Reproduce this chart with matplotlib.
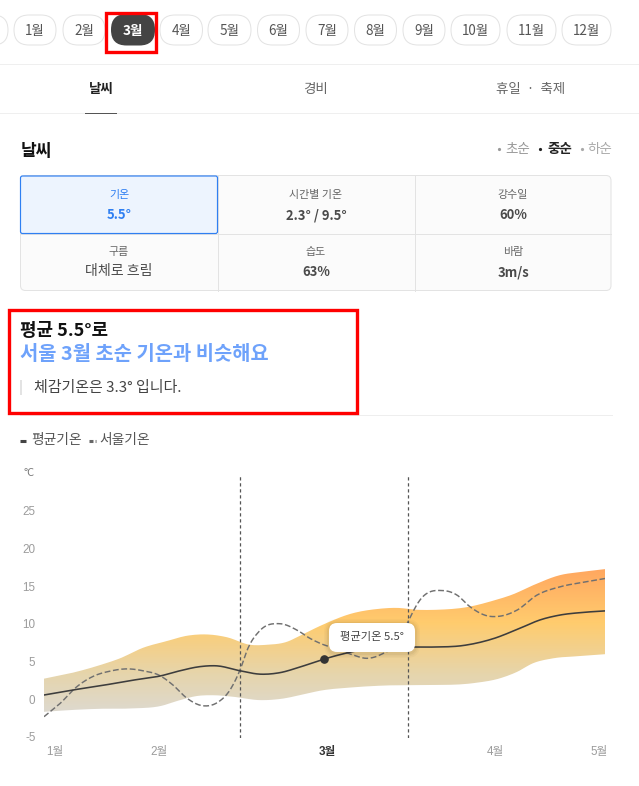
import numpy as np
import matplotlib
matplotlib.use("Agg")
import matplotlib.pyplot as plt
from matplotlib.colors import LinearSegmentedColormap
from matplotlib.patches import FancyBboxPatch, Rectangle, PathPatch
from matplotlib.path import Path

plt.rcParams['font.family'] = ['Noto Sans CJK KR', 'DejaVu Sans']

W, H = 639, 786
months = ['1월', '2월', '3월', '4월', '5월', '6월', '7월', '8월', '9월', '10월', '11월', '12월']
tabs = ['날씨', '경비', '휴일  ·  축제']
periods = ['초순', '중순', '하순']
cells = [['기온', '5.5°'], ['시간별 기온', '2.3° / 9.5°'], ['강수일', '60%'],
         ['구름', '대체로 흐림'], ['습도', '63%'], ['바람', '3m/s']]
y_ticks = [-5, 0, 5, 10, 15, 20, 25]
x_tick_pos = [55, 159, 327, 495, 599]
x_tick_labels = ['1월', '2월', '3월', '4월', '5월']
period_edges = [240.3, 408.3]

mean_x = [44, 73, 100, 133, 160, 180, 200, 217, 240, 260, 280, 300, 324, 353, 380, 415, 433, 463, 493, 520, 540, 560, 583, 605]
mean_y = [0.53, 1.2, 1.75, 2.5, 3.05, 3.75, 4.3, 4.4, 3.75, 3.3, 3.5, 4.25, 5.3, 6.3, 6.9, 6.9, 6.9, 7.1, 8.0, 9.4, 10.5, 11.15, 11.5, 11.7]
upper_x = [44, 73, 100, 120, 143, 167, 187, 210, 227, 250, 267, 287, 300, 320, 353, 377, 397, 417, 437, 467, 493, 513, 533, 560, 583, 605]
upper_y = [2.7, 3.5, 4.5, 5.4, 6.8, 7.7, 8.4, 8.55, 8.2, 7.2, 7.2, 7.6, 8.4, 9.7, 11.4, 11.95, 12.1, 11.85, 11.85, 12.2, 13.05, 13.9, 15.1, 16.45, 16.9, 17.25]
lower_x = [44, 73, 100, 133, 160, 180, 197, 213, 233, 260, 280, 300, 320, 353, 387, 420, 473, 500, 517, 533, 553, 580, 605]
lower_y = [-1.7, -1.45, -1.3, -1.25, -0.95, -0.15, 0.4, 0.5, 0.3, -0.15, 0, 0.5, 1.1, 1.55, 1.8, 1.85, 2.1, 2.75, 3.6, 4.75, 5.4, 5.7, 5.95]
seoul_x = [44, 60, 77, 93, 110, 127, 143, 160, 173, 187, 203, 217, 230, 240, 248, 260, 280, 297, 310, 320, 340, 353, 367, 383, 400, 408, 420, 443, 457, 470, 487, 500, 517, 537, 560, 583, 605]
seoul_y = [-2.35, -0.6, 1.65, 3, 3.7, 4, 3.75, 3.1, 1.85, 0.1, -0.9, -0.5, 1.2, 3.85, 6.75, 9.1, 10, 9.15, 8.05, 7.4, 6.5, 5.85, 5.4, 6.05, 7.85, 10.25, 13.15, 14.4, 13.8, 12.25, 11.05, 11, 11.8, 13.8, 14.9, 15.5, 16]
marker_x, marker_y = 324, 5.3


def smooth(x, y, n=12):
    x = np.asarray(x, float)
    y = np.asarray(y, float)
    m = np.gradient(y, x)
    xs, ys = [], []
    for i in range(len(x) - 1):
        h = x[i + 1] - x[i]
        t = np.linspace(0, 1, n, endpoint=False)
        xs.append(x[i] + t * h)
        ys.append((2 * t ** 3 - 3 * t ** 2 + 1) * y[i] + (t ** 3 - 2 * t ** 2 + t) * h * m[i]
                  + (-2 * t ** 3 + 3 * t ** 2) * y[i + 1] + (t ** 3 - t ** 2) * h * m[i + 1])
    return np.r_[np.concatenate(xs), x[-1]], np.r_[np.concatenate(ys), y[-1]]


fig = plt.figure(figsize=(W / 100, H / 100), dpi=100, facecolor='white')

# ---- chart axes: value 25 at py 510.75, -5 at py 736.65
PX_PER = 7.53
py0 = 699.0
ax_top, ax_bot = 473.0, 738.0
ax = fig.add_axes([44 / W, 1 - ax_bot / H, (605 - 44) / W, (ax_bot - ax_top) / H])
ax.patch.set_alpha(0)
for s in ax.spines.values():
    s.set_visible(False)
ax.set_yticks(y_ticks)
ax.set_yticklabels([str(v) for v in y_ticks])
ax.set_xticks(x_tick_pos)
ax.set_xticklabels(x_tick_labels)
ax.tick_params(axis='y', length=0, pad=6.2, labelsize=8.4, labelcolor='#9c9c9c')
ax.tick_params(axis='x', length=0, pad=5.5, labelsize=8.4, labelcolor='#9c9c9c')
tick_family = ['Liberation Sans', 'Noto Sans CJK KR']
for lab in ax.get_yticklabels() + ax.get_xticklabels():
    lab.set_fontfamily(tick_family)
for lab, t in zip(ax.get_xticklabels(), x_tick_labels):
    if t == '3월':
        lab.set_color('#333333')
        lab.set_fontweight('bold')

ux, uy = smooth(upper_x, upper_y)
lx, ly = smooth(lower_x, lower_y)
cmap = LinearSegmentedColormap.from_list('band', [(0, '#DDD9D0'), (0.27, '#E6D5AC'), (0.62, '#FFCC6E'), (1, '#FFA65F')])
grad = np.linspace(0, 1, 256)[:, None]
im = ax.imshow(grad, extent=[44, 605, -2, 17.4], origin='lower', aspect='auto', cmap=cmap, zorder=1)
poly = Path(np.vstack([np.column_stack([ux, uy]), np.column_stack([lx, ly])[::-1]]))
patch = PathPatch(poly, transform=ax.transData, facecolor='none', edgecolor='none')
ax.add_patch(patch)
im.set_clip_path(patch)
ax.set_xlim(44, 605)
ax.set_ylim((py0 - ax_bot) / PX_PER, (py0 - ax_top) / PX_PER)

for xv in period_edges:
    ax.plot([xv, xv], [(py0 - ax_bot) / PX_PER, (py0 - 476) / PX_PER], color='#555555', lw=0.9, dashes=(2.6, 2.2), zorder=2)
sx, sy = smooth(seoul_x, seoul_y)
ax.plot(sx, sy, color='#707070', lw=1.05, dashes=(4, 1.8), zorder=3)
mx, my = smooth(mean_x, mean_y)
ax.plot(mx, my, color='#3d3d3d', lw=1.15, zorder=4)
ax.plot([marker_x], [marker_y], 'o', color='#333333', ms=5.2, zorder=5)

# ---- page overlay in pixel coordinates
ui = fig.add_axes([0, 0, 1, 1], zorder=10)
ui.patch.set_alpha(0)
ui.set_xlim(0, W)
ui.set_ylim(H, 0)
ui.axis('off')


def rr(x0, y0, x1, y1, r, fc='none', ec='none', lw=0.72, z=2):
    p = FancyBboxPatch((x0, y0), x1 - x0, y1 - y0, boxstyle=f'round,pad=0,rounding_size={r}',
                       fc=fc, ec=ec, lw=lw, zorder=z, mutation_aspect=1)
    ui.add_patch(p)


def px(size):
    return size * 0.72


def label(x, y, s, size, color='#444444', ha='center', weight='normal', z=5):
    ui.text(x, y + 1.2, s, fontsize=px(size), color=color, ha=ha, va='center', fontweight=weight, zorder=z)


# month pills
pill_edges = [(14, 56), (63, 105), (111, 155), (160, 202.5), (208, 251), (257.5, 299.5), (306, 348),
              (354.5, 396.5), (403, 445), (451, 500), (507, 556), (562, 611)]
rr(-30, 15, 8, 45, 15, fc='white', ec='#e3e3e3')
for m, (a, b) in zip(months, pill_edges):
    if m == '3월':
        rr(a, 14, b, 45.5, 15.5, fc='#444444', z=3)
        label((a + b) / 2, 30, m, 13.5, color='white', weight='bold')
    else:
        rr(a, 15, b, 45, 15, fc='white', ec='#e3e3e3')
        label((a + b) / 2, 30, m, 13.5, color='#555555')
ui.add_patch(Rectangle((105.5, 13), 50.5, 39, fc='none', ec='#ff0000', lw=2.4, zorder=6))

# tabs
ui.plot([0, W], [64, 64], color='#efefef', lw=0.72)
ui.plot([0, W], [113, 113], color='#efefef', lw=0.72)
ui.plot([85, 116], [113, 113], color='#555555', lw=0.72, zorder=3)
for x, t, c, w in zip([101, 316, 531], tabs, ['#222222', '#666666', '#666666'], ['bold', 'normal', 'normal']):
    label(x, 87.5, t, 13.5, color=c, weight=w)

# section title
label(20.5, 149.5, '날씨', 17, color='#111111', ha='left', weight='bold')
for dot, tx, t, c, w in zip([499, 540, 581.5], [505, 547, 587.5], periods, ['#999999', '#222222', '#aaaaaa'], ['normal', 'bold', 'normal']):
    ui.plot([dot], [149], 'o', ms=2.3, color=c, mew=0)
    label(tx, 148, t, 13.5, color=c, ha='left', weight=w)

# table
col_edges = [20.5, 217.5, 414.5, 611]
row_edges = [175.5, 233.5, 290.5]
rr(col_edges[0], row_edges[0], col_edges[-1], row_edges[-1], 5, fc='#fbfbfb', ec='#e3e3e3', z=1)
for x in col_edges[1:-1]:
    ui.plot([x, x], [row_edges[0], row_edges[-1]], color='#e3e3e3', lw=0.72, zorder=2)
ui.plot([col_edges[0], col_edges[-1]], [row_edges[1], row_edges[1]], color='#e3e3e3', lw=0.72, zorder=2)
rr(col_edges[0], row_edges[0] + 0.5, col_edges[1], row_edges[1], 2, fc='#edf4fe', ec='#2f7ff2', lw=0.85, z=3)
centers = [119, 316, 513]
for i, (a, b) in enumerate(cells):
    xc = centers[i % 3]
    yt, yv = (194, 214) if i < 3 else (251, 270 if i == 3 else 271)
    ct = '#2f7ff2' if i == 0 else '#666666'
    cv = '#2f7ff2' if i == 0 else '#4a4a4a'
    label(xc, yt, a, 11, color=ct)
    if i == 3:
        label(xc, yv, b, 14, color=cv)
    else:
        label(xc, yv, b, 13, color=cv, weight='bold')

# headline box
label(20.5, 330, '평균 5.5°로', 18, color='#111111', ha='left', weight='bold')
label(20.5, 353, '서울 3월 초순 기온과 비슷해요', 19.8, color='#6ea2fb', ha='left', weight='bold')
ui.add_patch(Rectangle((20, 380), 2, 15, fc='#e3e3e3', ec='none'))
label(34, 386.5, '체감기온은 3.3° 입니다.', 15, color='#444444', ha='left')
ui.add_patch(Rectangle((8.5, 310), 348, 103, fc='none', ec='#ff0000', lw=2.4, zorder=6))
ui.plot([20, 612], [415, 415], color='#eeeeee', lw=0.72)

# legend
ui.plot([20, 26], [440.5, 440.5], color='#444444', lw=2.2, solid_capstyle='butt')
label(31, 438.5, '평균기온', 13.8, color='#555555', ha='left')
ui.plot([89, 96], [440.5, 440.5], color='#666666', lw=2.2, dashes=(1.3, 0.7))
label(99, 438.5, '서울기온', 13.8, color='#555555', ha='left')
label(29, 472, '°C', 11, color='#777777')

# tooltip
for d, a in zip([5, 3.5, 2], [0.025, 0.03, 0.04]):
    rr(329 - d, 623 - d + 1, 415 + d, 652 + d + 1, 8 + d, fc='#000000', z=6)
    ui.patches[-1].set_alpha(a)
rr(329, 623, 415, 652, 8, fc='white', z=7)
label(372, 635.5, '평균기온 5.5°', 11.3, color='#444444', z=8)

fig.savefig('out.png', dpi=100, facecolor='white')
